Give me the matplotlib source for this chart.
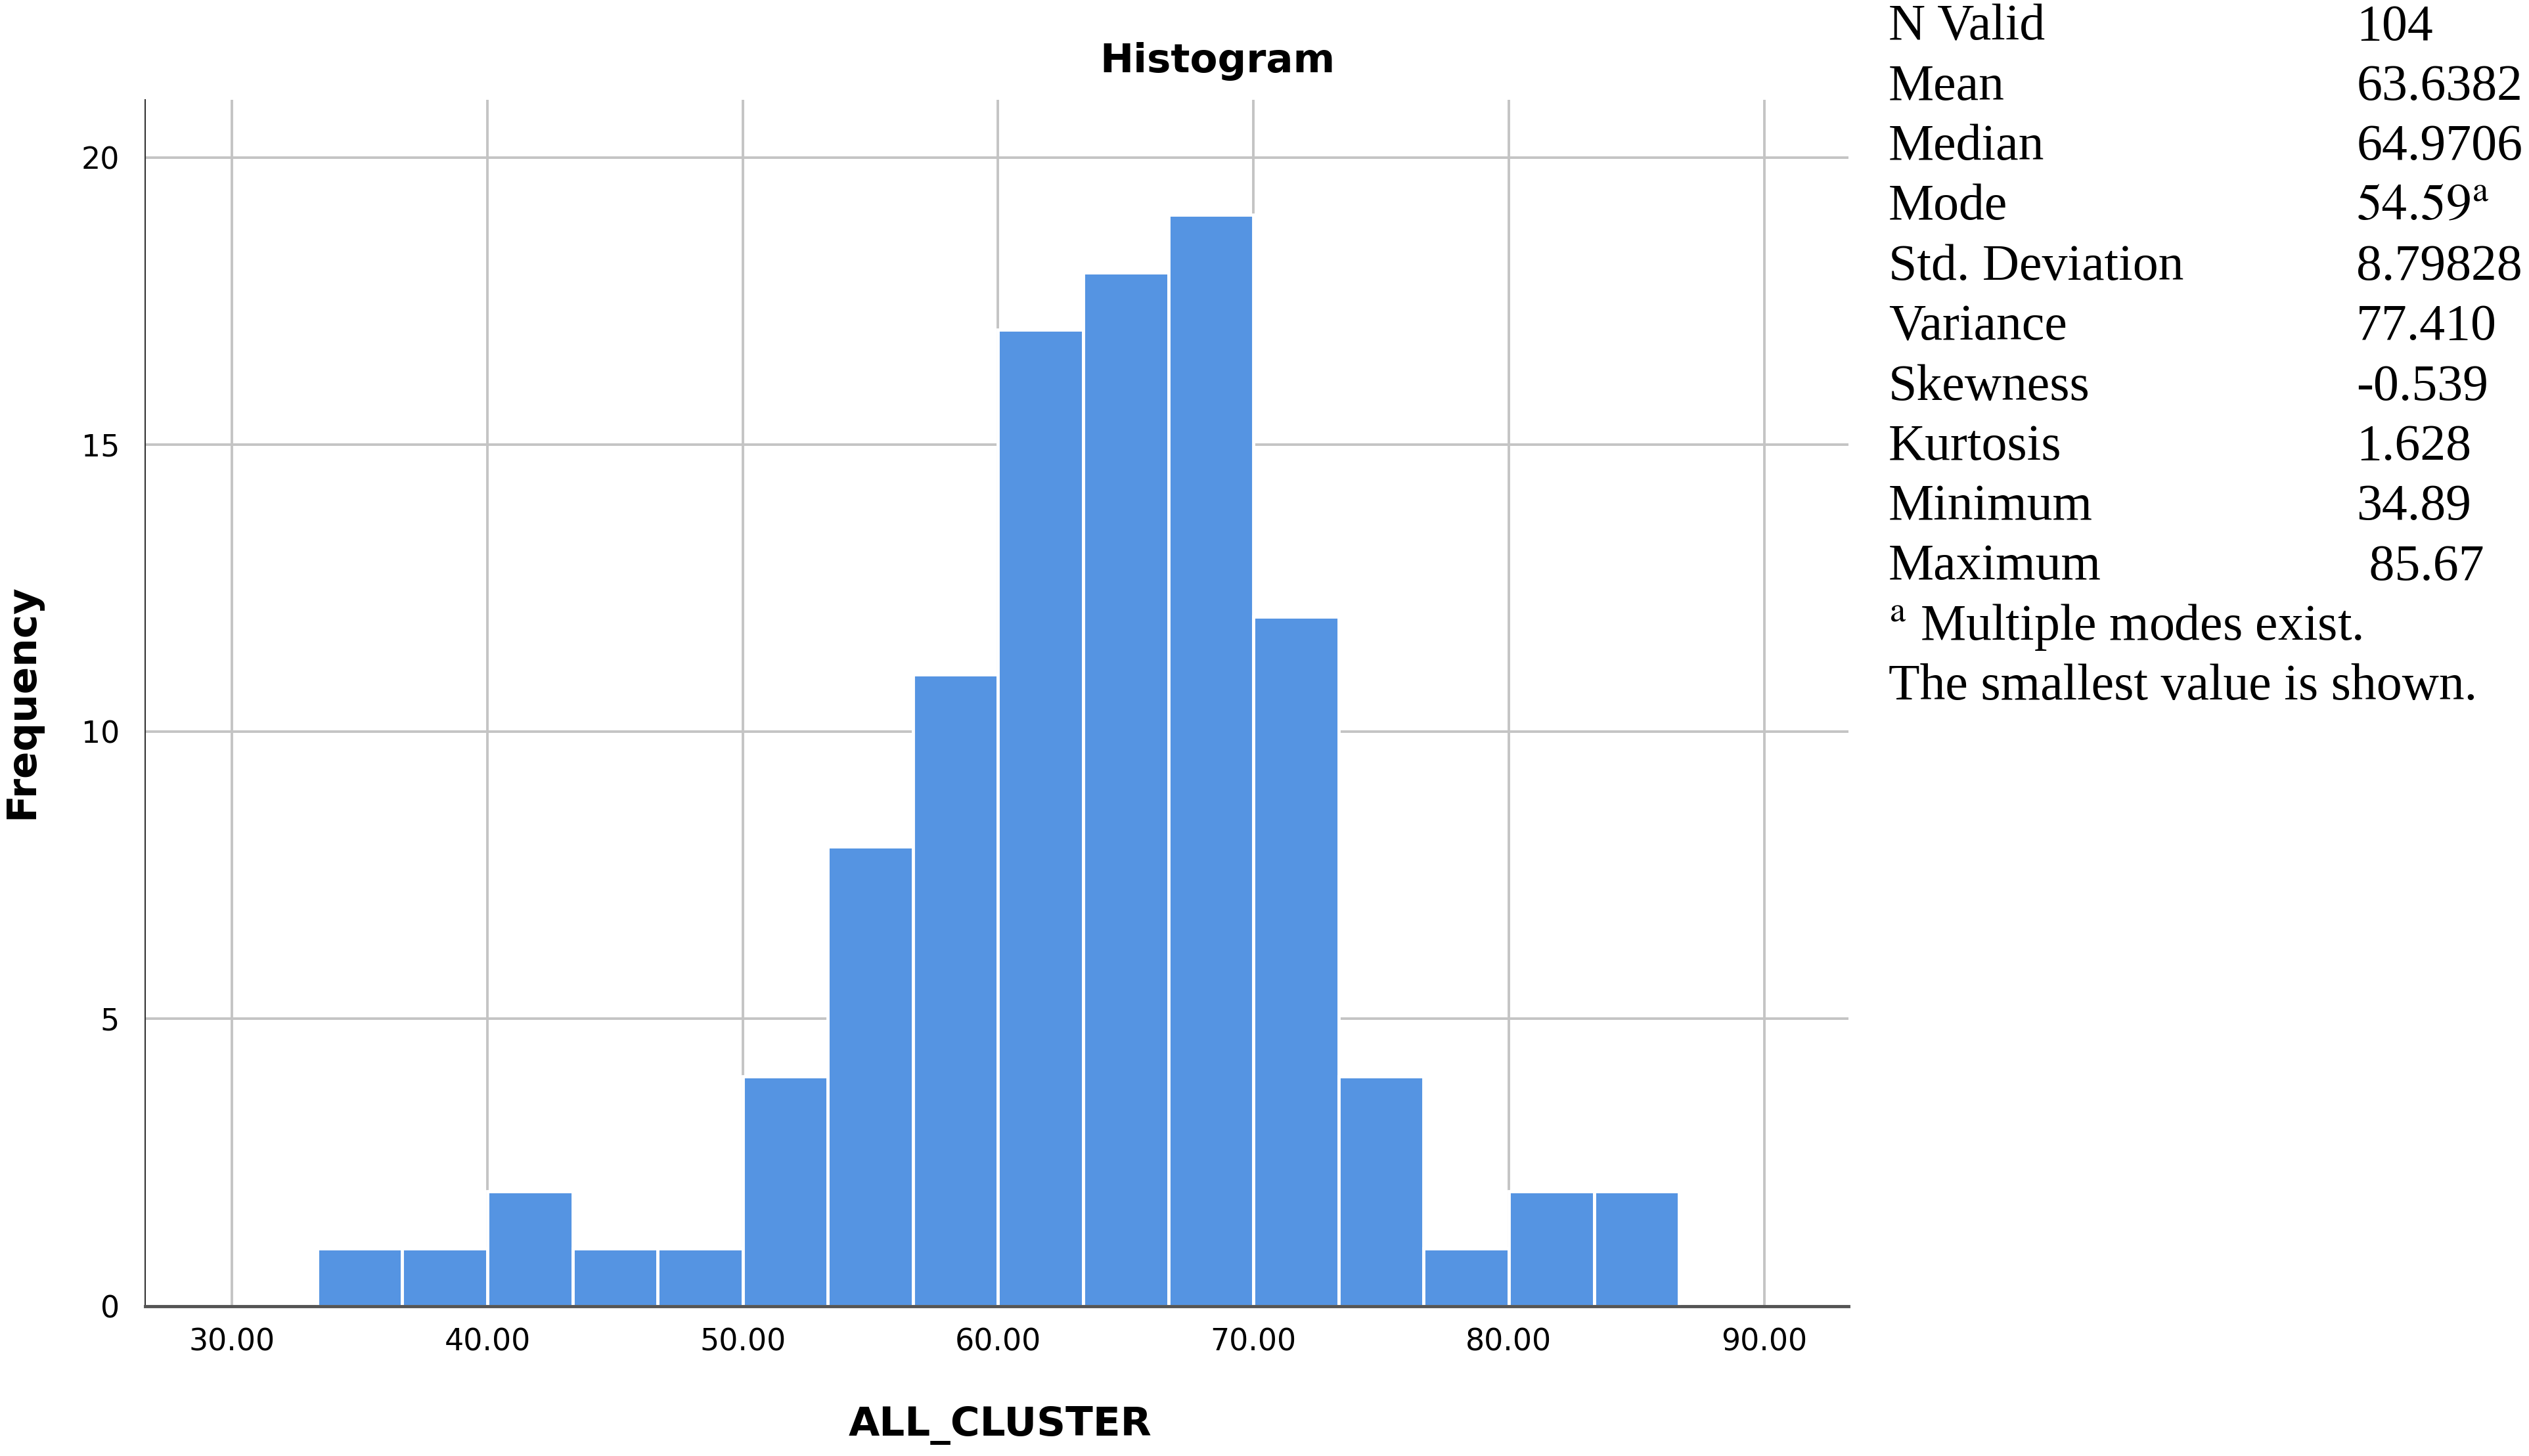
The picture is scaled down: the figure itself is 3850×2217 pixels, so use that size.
import numpy as np
import matplotlib.pyplot as plt

# histogram of ALL_CLUSTER (bin width 10/3, starting at 33.33)
bin_start = 100 / 3
bin_width = 10 / 3
counts = [1, 1, 2, 1, 1, 4, 8, 11, 17, 18, 19, 12, 4, 1, 2, 2]
edges = bin_start + bin_width * np.arange(len(counts) + 1)

x_ticks = [30, 40, 50, 60, 70, 80, 90]
y_ticks = [0, 5, 10, 15, 20]

stat_names = ["N Valid", "Mean", "Median", "Mode", "Std. Deviation", "Variance",
              "Skewness", "Kurtosis", "Minimum", "Maximum"]
stat_values = ["104", "63.6382", "64.9706", r"$\mathrm{54.59}^{\mathrm{a}}$", "8.79828", "77.410",
               "-0.539", "1.628", "34.89", " 85.67"]
footnotes = [r"$^{\mathrm{a}}$ Multiple modes exist.", "The smallest value is shown."]

plt.rcParams['mathtext.fontset'] = 'stix'

fig = plt.figure(figsize=(38.5, 22.17), dpi=100)
ax = fig.add_axes([0.0574, 0.103, 0.6735, 0.8283])

ax.bar(edges[:-1], counts, width=np.diff(edges), align='edge',
       color='#5594e2', edgecolor='white', linewidth=3.5, zorder=3)

ax.set_xlim(26.6, 93.3)
ax.set_ylim(0, 21)
ax.set_xticks(x_ticks)
ax.set_xticklabels([f"{t:.2f}" for t in x_ticks])
ax.set_yticks(y_ticks)
ax.tick_params(length=0, labelsize=33, colors='black')
ax.tick_params(axis='y', pad=28)
ax.tick_params(axis='x', pad=24)
ax.grid(True, color='#c4c4c4', linewidth=2.8, zorder=0)
ax.set_axisbelow(True)

for s in ['top', 'right']:
    ax.spines[s].set_visible(False)
ax.spines['left'].set_color('#333333')
ax.spines['left'].set_linewidth(1.5)
ax.spines['bottom'].set_color('#555555')
ax.spines['bottom'].set_linewidth(3.5)
ax.spines['bottom'].set_zorder(4)

fig.text(755 / 1568, 1 - 38 / 903, "Histogram", ha='center', va='center',
         fontsize=44, fontweight='bold')
fig.text(14 / 1568, 1 - 435 / 903, "Frequency", ha='center', va='center',
         rotation=90, fontsize=44, fontweight='bold')
fig.text(620 / 1568, 1 - 884 / 903, "ALL_CLUSTER", ha='center', va='center',
         fontsize=44, fontweight='bold')

# descriptive statistics table on the right
serif = ['Liberation Serif', 'DejaVu Serif']
y0 = 1 - 17 / 903
step = 37.2 / 903
for i, (name, val) in enumerate(zip(stat_names, stat_values)):
    y = y0 - i * step
    fig.text(1171 / 1568, y, name, ha='left', va='center', fontsize=56, family=serif)
    fig.text(1461 / 1568, y, val, ha='left', va='center', fontsize=56, family=serif)
for j, line in enumerate(footnotes):
    y = y0 - (len(stat_names) + j) * step
    fig.text(1171 / 1568, y, line, ha='left', va='center', fontsize=56, family=serif)

fig.savefig("out.png", dpi=100)
